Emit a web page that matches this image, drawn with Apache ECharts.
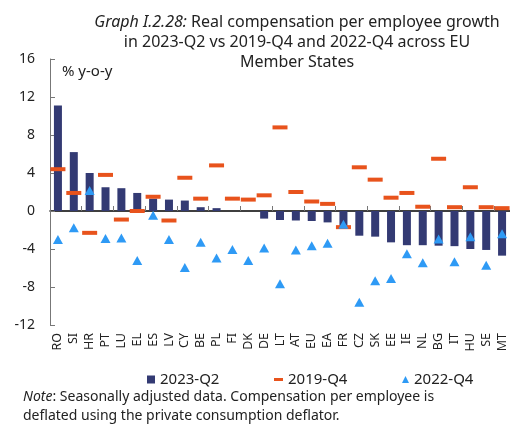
<!DOCTYPE html>
<html>
<head>
<meta charset="utf-8">
<script src="https://cdn.jsdelivr.net/npm/echarts@6/dist/echarts.min.js"></script>
<style>
  html, body { margin: 0; padding: 0; background: #fff; }
  #chart { width: 510px; height: 428px; }
</style>
</head>
<body>
<div id="chart"></div>
<script>
// country codes along the x axis
var countries = ['RO','SI','HR','PT','LU','EL','ES','LV','CY','BE','PL','FI','DK','DE','LT',
  'AT','EU','EA','FR','CZ','SK','EE','IE','NL','BG','IT','HU','SE','MT'];
// 2023-Q2 vs 2019-Q4 ... bars
var q2023 = [11.1, 6.2, 4.0, 2.5, 2.4, 1.9, 1.3, 1.2, 1.1, 0.4, 0.3, 0.0, 0.0, -0.8, -0.95,
  -1.0, -1.05, -1.2, -1.7, -2.6, -2.7, -3.3, -3.6, -3.6, -3.65, -3.7, -4.0, -4.1, -4.7];
// orange dashes
var q2019 = [4.4, 1.9, -2.3, 3.8, -0.9, 0.0, 1.5, -1.0, 3.5, 1.3, 4.8, 1.3, 1.2, 1.65, 8.8,
  2.0, 1.0, 0.75, -1.7, 4.6, 3.3, 1.4, 1.9, 0.45, 5.5, 0.4, 2.5, 0.4, 0.3];
// blue triangles
var q2022 = [-3.0, -1.75, 2.15, -2.9, -2.85, -5.2, -0.45, -3.0, -5.95, -3.3, -4.95, -4.05, -5.2, -3.9, -7.65,
  -4.1, -3.65, -3.4, -1.4, -9.6, -7.35, -7.1, -4.5, -5.45, -2.95, -5.35, -2.7, -5.7, -2.4];
var yTicks = [-12, 16, 4]; // min, max, step

var font = 'Noto Sans';
var myChart = echarts.init(document.getElementById('chart'));

var options = {
  animation: false,
  textStyle: { fontFamily: font },
  title: {
    text: '{i|Graph I.2.28:} Real compensation per employee growth\nin 2023-Q2 vs 2019-Q4 and 2022-Q4 across EU\nMember States',
    left: 292,
    top: 7,
    textAlign: 'center',
    textStyle: {
      fontFamily: font, fontSize: 16, fontWeight: 'normal', color: '#222', lineHeight: 20,
      rich: { i: { fontFamily: font, fontSize: 16, fontStyle: 'italic', color: '#222' } }
    }
  },
  legend: [
    { data: ['2023-Q2'], left: 142, top: 367, icon: 'rect', itemWidth: 8, itemHeight: 8, itemGap: 4,
      textStyle: { fontFamily: font, fontSize: 15, color: '#222' } },
    { data: ['2019-Q4'], left: 269, top: 367, icon: 'rect', itemWidth: 9, itemHeight: 3, itemGap: 4,
      textStyle: { fontFamily: font, fontSize: 15, color: '#222' } },
    { data: ['2022-Q4'], left: 397, top: 367, icon: 'triangle', itemWidth: 7, itemHeight: 7, itemGap: 5,
      textStyle: { fontFamily: font, fontSize: 15, color: '#222' } }
  ],
  grid: { left: 50, right: 0, top: 59, bottom: 103 },
  xAxis: [
    {
      type: 'category', data: countries, position: 'bottom',
      axisLine: { onZero: true, lineStyle: { color: '#000', width: 1.5 } },
      axisTick: { show: true, inside: true, length: 5, lineStyle: { color: '#777' } },
      axisLabel: { show: false }
    },
    {
      type: 'category', data: countries, position: 'bottom',
      axisLine: { show: false }, axisTick: { show: false },
      axisLabel: { rotate: 90, interval: 0, margin: 8, fontSize: 12.5, color: '#222', fontFamily: font }
    }
  ],
  yAxis: {
    type: 'value', min: yTicks[0], max: yTicks[1], interval: yTicks[2],
    axisLine: { show: true, lineStyle: { color: '#777' } },
    axisTick: { show: true, inside: true, length: 5, lineStyle: { color: '#777' } },
    splitLine: { show: false },
    axisLabel: { fontSize: 14, color: '#222', margin: 15, fontFamily: font }
  },
  graphic: [
    { type: 'text', left: 62, top: 64, style: { text: '% y-o-y', fontFamily: font, fontSize: 15, fill: '#222' } },
    { type: 'text', left: 23, top: 388, style: {
        text: '{i|Note}: Seasonally adjusted data. Compensation per employee is\ndeflated using the private consumption deflator.',
        fontFamily: font, fontSize: 14, fill: '#222', lineHeight: 19,
        rich: { i: { fontFamily: font, fontSize: 14, fontStyle: 'italic', fill: '#222' } }
      } }
  ],
  series: [
    { name: '2023-Q2', type: 'bar', data: q2023, barWidth: 8, itemStyle: { color: '#333a73' }, z: 2 },
    { name: '2019-Q4', type: 'scatter', data: q2019, symbol: 'rect', symbolSize: [15, 4],
      itemStyle: { color: '#e8531c', opacity: 1 }, z: 3 },
    { name: '2022-Q4', type: 'scatter', data: q2022, symbol: 'triangle', symbolSize: [10, 9],
      itemStyle: { color: '#2e9af5', opacity: 1 }, z: 4 }
  ]
};

myChart.setOption(options);
</script>
</body>
</html>
